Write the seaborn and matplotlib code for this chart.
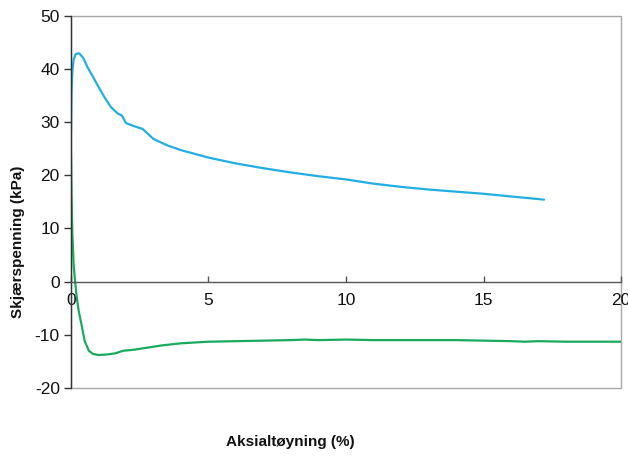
import matplotlib
matplotlib.use("Agg")
import matplotlib.pyplot as plt
from matplotlib.patches import Rectangle
import seaborn as sns
import pandas as pd

# Shear stress (kPa) against axial strain (%)
strain_a = [0.0, 0.02, 0.05, 0.1, 0.18, 0.3, 0.45, 0.6, 0.8, 1.0, 1.2, 1.45, 1.7, 1.85, 2.0,
            2.3, 2.6, 3.0, 3.5, 4.0, 5.0, 6.0, 7.0, 8.0, 9.0, 10.0, 11.0, 12.0, 13.0,
            14.0, 15.0, 16.0, 17.2]
stress_a = [28.0, 35.5, 39.5, 41.8, 42.8, 42.9, 42.0, 40.3, 38.5, 36.6, 34.8, 32.8, 31.6, 31.2, 29.8,
            29.2, 28.7, 26.8, 25.6, 24.7, 23.3, 22.2, 21.3, 20.5, 19.8, 19.2, 18.4, 17.8, 17.3,
            16.9, 16.5, 16.0, 15.4]

strain_b = [0.0, 0.02, 0.05, 0.1, 0.15, 0.2, 0.28, 0.38, 0.5, 0.65, 0.8, 1.0, 1.3, 1.6, 1.9,
            2.3, 2.8, 3.3, 4.0, 5.0, 6.0, 7.0, 8.0, 8.5, 9.0, 10.0, 11.0, 12.0, 13.0, 14.0,
            15.0, 16.0, 16.5, 17.0, 18.0, 19.0, 20.0]
stress_b = [24.0, 16.0, 9.0, 3.0, 0.0, -2.5, -5.5, -8.0, -11.2, -13.0, -13.6, -13.8, -13.7, -13.5, -13.0,
            -12.8, -12.4, -12.0, -11.6, -11.3, -11.2, -11.1, -11.0, -10.9, -11.0, -10.9, -11.0, -11.0, -11.0, -11.0,
            -11.1, -11.2, -11.3, -11.2, -11.3, -11.3, -11.3]

x_ticks = [0, 5, 10, 15, 20]
y_ticks = [-20, -10, 0, 10, 20, 30, 40, 50]

df = pd.concat([
    pd.DataFrame({"strain": strain_a, "stress": stress_a, "serie": "a"}),
    pd.DataFrame({"strain": strain_b, "stress": stress_b, "serie": "b"}),
])

sns.set_theme(style="white")
plt.rcParams["font.family"] = ["Liberation Sans", "DejaVu Sans"]
plt.rcParams["axes.unicode_minus"] = False

fig = plt.figure(figsize=(6.28, 4.57), dpi=100)
ax = fig.add_axes([0.113, 0.151, 0.876, 0.815])

sns.lineplot(data=df, x="strain", y="stress", hue="serie", sort=False,
             palette={"a": "#22aee0", "b": "#1aaa5e"}, linewidth=1.6,
             legend=False, ax=ax)

ax.set_xlim(0, 20)
ax.set_ylim(-20, 50)
ax.set_xticks(x_ticks)
ax.set_yticks(y_ticks)
ax.set_xlabel("")
ax.set_ylabel("")

# plot-area frame
ax.add_patch(Rectangle((0, 0), 1, 1, transform=ax.transAxes, fill=False,
                       edgecolor="#a8a8a8", linewidth=1.0, zorder=0.5, clip_on=False))
for s in ("top", "right"):
    ax.spines[s].set_visible(False)
ax.spines["left"].set_color("#333333")
ax.spines["left"].set_linewidth(1.0)
ax.spines["bottom"].set_position(("data", 0))
ax.spines["bottom"].set_color("#555555")
ax.spines["bottom"].set_linewidth(1.0)

ax.tick_params(axis="y", direction="out", length=5, width=1, color="#333333",
               labelsize=12.5, labelcolor="#111111", pad=3, left=True)
ax.tick_params(axis="x", direction="in", length=4, width=1, color="#555555",
               labelsize=12.5, labelcolor="#111111", pad=8, bottom=True)

fig.text(0.029, 0.47, "Skjærspenning (kPa)", rotation=90, ha="center", va="center",
         fontsize=11, fontweight="bold", color="#111111")
fig.text(0.463, 0.032, "Aksialtøyning (%)", ha="center", va="center",
         fontsize=11, fontweight="bold", color="#111111")

fig.savefig("out.png", dpi=100)
